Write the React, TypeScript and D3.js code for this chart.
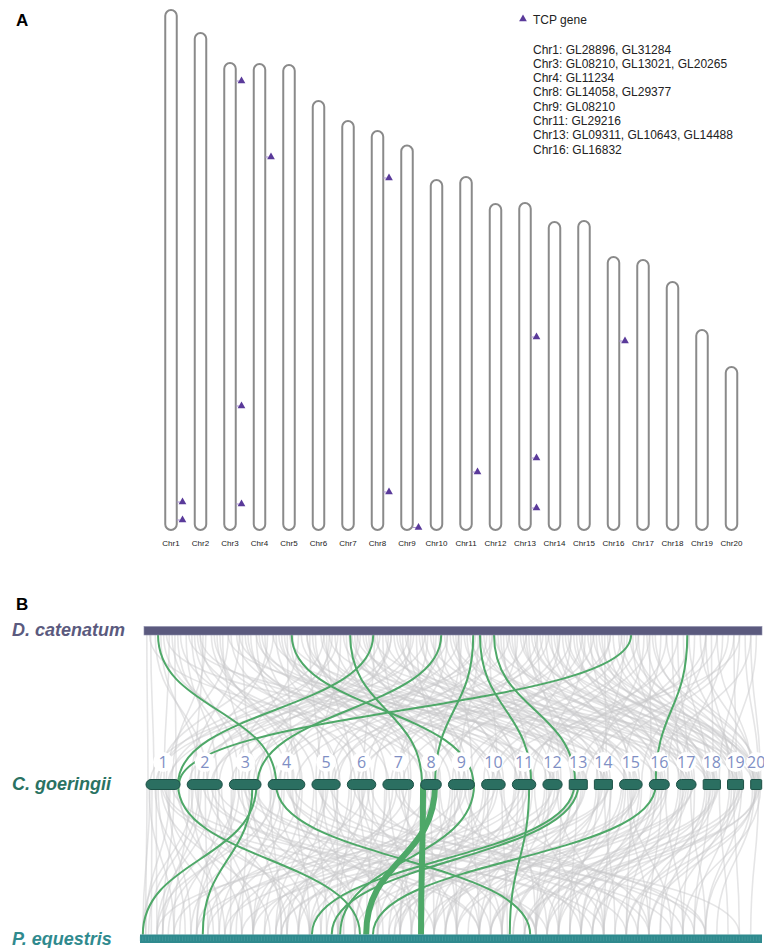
import React from "react";
import * as d3 from "d3";

// ---- panel A data ----
const chrNames = d3.range(1, 21).map((i) => `Chr${i}`);
// chromosome lengths (Mb)
const chrLengths = [104, 99.4, 93.4, 93.2, 93, 85.8, 81.8, 79.8, 76.9, 70, 70.6, 65.2, 65.4, 61.6, 61.8, 54.6, 54, 49.6, 40, 32.6];
// TCP genes: chromosome number and position (Mb from top)
const geneChr = [1, 1, 3, 3, 3, 4, 8, 8, 9, 11, 13, 13, 13, 16];
const genePos = [98.4, 102, 3.6, 68.6, 88.2, 18.6, 9.4, 72.2, 76.4, 59, 26.8, 51, 61, 16.8];
const legendLines = [
  "Chr1: GL28896, GL31284",
  "Chr3: GL08210, GL13021, GL20265",
  "Chr4: GL11234",
  "Chr8: GL14058, GL29377",
  "Chr9: GL08210",
  "Chr11: GL29216",
  "Chr13: GL09311, GL10643, GL14488",
  "Chr16: GL16832",
];

// ---- panel B data ----
const species = ["D. catenatum", "C. goeringii", "P. equestris"];
const dcLength = 1100;
const peLength = 1100;
const cgLabels = d3.range(1, 21).map(String);
const cgLengths = [170, 175, 158, 183, 141, 142, 153, 103, 130, 118, 117, 96, 90, 90, 113, 100, 98, 86, 80, 55];

// highlighted blocks D. catenatum -> C. goeringii: [dcMb, cgChr, cgMb, genes]
const greenUpper = [
  [25, 4, 40, 10], [263, 9, 125, 10], [367, 8, 7, 10], [408, 1, 160, 10], [529, 3, 140, 10],
  [586, 8, 72, 10], [598, 11, 94, 10], [623, 13, 30, 10], [867, 1, 165, 10], [967, 16, 32, 10],
];
// highlighted blocks C. goeringii -> P. equestris: [cgChr, cgMb, peMb, genes]
const greenLower = [
  [1, 160, 389, 10], [3, 115, 111, 10], [3, 135, 5, 10], [4, 40, 690, 10], [8, 72, 400, 40],
  [8, 12, 497, 40], [9, 128, 354, 10], [11, 84, 654, 10], [13, 25, 304, 10], [13, 45, 339, 10],
  [16, 32, 412, 10],
];
// background blocks D. catenatum -> C. goeringii: [dcMb, cgChr, cgMb]
const grayUpper = [
  [5, 1, 10], [12, 1, 40], [30, 2, 60], [45, 1, 90], [60, 3, 20], [75, 2, 150], [90, 4, 100], [110, 1, 130],
  [120, 5, 60], [140, 3, 80], [155, 6, 40], [170, 2, 20], [185, 7, 90], [200, 4, 160], [215, 5, 120], [230, 1, 60],
  [245, 8, 50], [260, 6, 120], [275, 3, 30], [290, 9, 60], [305, 7, 20], [320, 10, 40], [335, 2, 100], [350, 5, 20],
  [365, 11, 50], [380, 4, 60], [395, 12, 40], [410, 6, 80], [425, 7, 140], [440, 3, 120], [455, 13, 60], [470, 9, 100],
  [485, 8, 90], [500, 14, 40], [515, 10, 90], [530, 5, 100], [545, 15, 60], [560, 11, 20], [575, 12, 80], [590, 4, 20],
  [605, 16, 50], [620, 7, 60], [635, 13, 10], [650, 17, 40], [665, 9, 20], [680, 14, 80], [695, 18, 40], [710, 6, 10],
  [725, 15, 100], [740, 10, 10], [755, 19, 30], [770, 16, 80], [785, 12, 10], [800, 20, 30], [815, 17, 80], [830, 8, 20],
  [845, 18, 70], [860, 11, 100], [875, 19, 60], [890, 14, 10], [905, 20, 45], [920, 15, 20], [940, 17, 10], [960, 18, 20],
  [980, 16, 90], [1000, 19, 10], [1020, 20, 10], [1040, 13, 80], [1060, 18, 80], [1080, 20, 50],
  [50, 3, 140], [100, 5, 10], [180, 8, 10], [250, 9, 10], [330, 3, 150], [420, 1, 20], [480, 2, 130], [520, 6, 130],
  [560, 9, 120], [610, 5, 130], [700, 12, 90], [760, 11, 10], [820, 14, 60], [900, 16, 10], [1000, 15, 110], [130, 4, 170],
  [210, 10, 100], [290, 11, 110], [370, 13, 80], [450, 15, 90],
  [20, 2, 100], [35, 4, 20], [55, 1, 150], [65, 5, 90], [85, 3, 50], [95, 6, 100], [105, 2, 40], [125, 7, 30],
  [135, 4, 130], [150, 1, 100], [165, 8, 70], [175, 3, 100], [190, 5, 140], [205, 9, 90], [220, 2, 80], [235, 6, 60],
  [240, 10, 70], [255, 4, 120], [265, 7, 110], [280, 11, 30], [295, 5, 40], [300, 8, 30], [315, 12, 60], [325, 6, 20],
  [340, 9, 40], [345, 1, 120], [355, 13, 40], [360, 7, 130], [375, 10, 60], [385, 2, 160], [390, 14, 60], [400, 8, 100],
  [405, 3, 60], [415, 11, 70], [430, 15, 40], [435, 4, 80], [445, 12, 20], [460, 9, 80], [465, 16, 60], [475, 5, 80],
  [490, 13, 70], [495, 10, 110], [505, 6, 90], [510, 17, 60], [525, 11, 40], [535, 14, 70], [540, 7, 70], [550, 18, 60],
  [555, 12, 50], [565, 8, 60], [570, 15, 80], [580, 19, 50], [585, 13, 20], [595, 9, 50], [600, 16, 20], [615, 10, 80],
  [625, 20, 20], [630, 14, 20], [640, 11, 90], [645, 17, 20], [655, 15, 30], [660, 12, 70], [670, 18, 10], [675, 16, 70],
  [685, 13, 50], [690, 19, 20], [705, 17, 70], [715, 14, 50], [720, 20, 40], [730, 18, 50], [735, 15, 70], [745, 16, 40],
  [750, 19, 70], [765, 17, 30], [775, 20, 20], [780, 18, 30], [790, 19, 40], [795, 15, 50], [805, 16, 60], [810, 20, 5],
  [825, 17, 50], [835, 18, 10], [850, 19, 50], [855, 14, 30], [865, 20, 25], [870, 16, 95], [880, 17, 90], [895, 18, 60],
  [910, 19, 75], [930, 20, 35], [950, 17, 60], [970, 19, 25], [990, 20, 15], [1010, 18, 50], [1030, 17, 20], [1050, 19, 45],
  [1070, 20, 40], [1090, 19, 5],
  [10, 8, 40], [40, 12, 50], [80, 15, 30], [150, 18, 20], [200, 13, 90], [260, 17, 50], [320, 1, 70], [380, 19, 40],
  [440, 2, 50], [500, 1, 110], [560, 3, 90], [620, 2, 120], [680, 4, 140], [720, 5, 30], [760, 6, 70], [800, 7, 100],
  [850, 9, 70], [900, 10, 50], [950, 11, 60], [1000, 12, 30], [1050, 14, 40], [1080, 16, 20], [100, 11, 80], [170, 14, 50],
  [230, 16, 40], [330, 18, 30], [410, 20, 10], [470, 1, 50], [540, 2, 10], [600, 3, 10], [650, 4, 50], [700, 5, 110],
  [740, 7, 40], [780, 8, 80], [830, 6, 50], [880, 9, 110], [930, 12, 50], [970, 13, 40], [1020, 11, 30], [1060, 10, 70],
];
// background blocks C. goeringii -> P. equestris: [cgChr, cgMb, peMb]
const grayLower = [
  [1, 5, 10], [1, 30, 20], [1, 60, 80], [1, 100, 150], [1, 140, 40], [2, 10, 60], [2, 50, 200], [2, 90, 120],
  [2, 130, 30], [2, 170, 260], [3, 20, 100], [3, 60, 300], [3, 100, 180], [3, 150, 50], [4, 10, 250], [4, 70, 140],
  [4, 120, 380], [4, 170, 220], [5, 20, 330], [5, 60, 200], [5, 100, 430], [5, 130, 280], [6, 20, 350], [6, 70, 480],
  [6, 110, 260], [7, 10, 420], [7, 50, 300], [7, 100, 540], [7, 140, 380], [8, 30, 460], [8, 60, 330], [8, 90, 560],
  [9, 20, 500], [9, 60, 420], [9, 110, 600], [10, 20, 560], [10, 60, 450], [10, 100, 650], [11, 10, 520], [11, 50, 700],
  [11, 100, 600], [12, 20, 640], [12, 60, 540], [12, 90, 740], [13, 10, 700], [13, 60, 600], [14, 20, 760], [14, 60, 660],
  [14, 80, 820], [15, 20, 720], [15, 60, 860], [15, 100, 780], [16, 20, 800], [16, 60, 900], [16, 90, 700], [17, 20, 880],
  [17, 60, 780], [17, 90, 960], [18, 20, 920], [18, 60, 840], [19, 20, 980], [19, 60, 900], [20, 20, 1020], [20, 50, 960],
  [1, 80, 500], [2, 120, 600], [3, 40, 520], [4, 100, 700], [5, 40, 620], [6, 90, 100], [7, 120, 160], [8, 80, 220],
  [9, 90, 240], [10, 40, 300], [11, 80, 350], [12, 40, 420], [13, 80, 460], [14, 40, 520], [15, 80, 560], [16, 40, 620],
  [17, 40, 680], [18, 40, 740], [19, 40, 800], [20, 30, 860], [3, 130, 700], [6, 50, 640], [9, 40, 740], [12, 70, 820],
  [15, 40, 900], [1, 120, 10], [2, 30, 5], [4, 40, 30],
  [1, 15, 60], [1, 45, 130], [1, 75, 230], [1, 110, 90], [1, 150, 300], [1, 165, 180], [2, 20, 140], [2, 40, 280],
  [2, 70, 40], [2, 100, 350], [2, 140, 200], [2, 160, 100], [3, 10, 160], [3, 30, 40], [3, 80, 360], [3, 110, 250],
  [3, 140, 400], [4, 20, 90], [4, 50, 320], [4, 80, 200], [4, 110, 460], [4, 140, 300], [4, 160, 120], [5, 10, 240],
  [5, 50, 380], [5, 80, 150], [5, 110, 500], [5, 125, 350], [6, 10, 280], [6, 40, 200], [6, 60, 420], [6, 80, 320],
  [6, 100, 560], [6, 130, 400], [7, 20, 360], [7, 30, 480], [7, 70, 240], [7, 80, 600], [7, 130, 460], [8, 10, 380],
  [8, 50, 520], [8, 70, 280], [8, 95, 640], [9, 10, 440], [9, 30, 560], [9, 70, 350], [9, 100, 680], [9, 120, 520],
  [10, 10, 480], [10, 30, 620], [10, 80, 400], [10, 110, 720], [11, 20, 460], [11, 30, 640], [11, 70, 540], [11, 110, 780],
  [12, 10, 580], [12, 30, 700], [12, 80, 480], [13, 20, 640], [13, 40, 760], [13, 70, 540], [14, 10, 700], [14, 30, 600],
  [14, 50, 840], [14, 85, 740], [15, 10, 660], [15, 30, 780], [15, 50, 940], [15, 70, 700], [15, 110, 820], [16, 10, 740],
  [16, 30, 860], [16, 50, 760], [16, 80, 960], [17, 10, 820], [17, 30, 920], [17, 50, 720], [17, 70, 1000], [18, 10, 880],
  [18, 30, 980], [18, 50, 800], [18, 80, 1040], [19, 10, 940], [19, 30, 1060], [19, 50, 860], [19, 70, 1000], [20, 10, 1000],
  [20, 40, 1080], [20, 25, 900], [1, 20, 5], [1, 50, 30], [2, 60, 15], [3, 50, 70], [4, 30, 170], [5, 70, 260],
  [1, 90, 600], [2, 80, 700], [3, 70, 800], [4, 90, 860], [5, 30, 900], [6, 30, 960], [7, 60, 1000], [8, 40, 60],
  [9, 50, 120], [10, 70, 30], [11, 60, 200], [12, 50, 150], [13, 50, 250], [14, 70, 300], [15, 90, 380], [16, 70, 450],
  [17, 80, 500], [18, 70, 560], [19, 60, 620], [20, 45, 680], [1, 130, 720], [2, 150, 820], [3, 90, 940], [4, 130, 1000],
  [5, 90, 1060], [6, 120, 780], [7, 90, 880], [8, 20, 980], [9, 80, 820], [10, 90, 900], [11, 40, 100], [12, 85, 250],
  [13, 30, 340], [14, 70, 180], [15, 100, 440], [16, 85, 520], [17, 80, 420], [18, 75, 620], [19, 75, 680], [20, 35, 720],
];

const FONT = "'Liberation Sans', Arial, sans-serif";
const GREEN = "#4ea868";

const link = (x0: number, y0: number, x1: number, y1: number) => {
  const ym = (y0 + y1) / 2;
  return `M${x0},${y0}C${x0},${ym} ${x1},${ym} ${x1},${y1}`;
};

function PanelA() {
  const bottom = 530;
  const x = d3.scalePoint<string>().domain(chrNames).range([171, 731.5]);
  const y = d3.scaleLinear().domain([0, d3.max(chrLengths) as number]).range([0, 520]);
  const w = 11.5;
  const tri = d3.symbol().type(d3.symbolTriangle).size(26)();
  return (
    <g>
      <text x={16} y={26} fontFamily={FONT} fontWeight="bold" fontSize={17}>A</text>
      {chrNames.map((c, i) => {
        const top = bottom - y(chrLengths[i]);
        const cx = x(c) as number;
        return (
          <g key={c}>
            <rect x={cx - w / 2} y={top} width={w} height={bottom - top} rx={w / 2}
              fill="#fff" stroke="#8a8a8a" strokeWidth={2} />
            <text x={cx} y={545.5} textAnchor="middle" fontFamily={FONT} fontSize={8} fill="#222">{c}</text>
          </g>
        );
      })}
      {geneChr.map((c, i) => {
        const top = bottom - y(chrLengths[c - 1]);
        const cx = x(chrNames[c - 1]) as number;
        const gy = top + y(genePos[i]);
        return (
          <g key={i}>
            <line x1={cx + w / 2} x2={cx + 9} y1={gy} y2={gy} stroke="#a893cf" strokeWidth={1} />
            <path d={tri as string} transform={`translate(${cx + 11.5},${gy})`} fill="#5a3a9a" />
          </g>
        );
      })}
      <path d={tri as string} transform="translate(523,19)" fill="#5a3a9a" />
      <text x={533} y={23.5} fontFamily={FONT} fontSize={12} fill="#222">TCP gene</text>
      {legendLines.map((t, i) => (
        <text key={t} x={533} y={53.5 + i * 14.3} fontFamily={FONT} fontSize={12} fill="#222">{t}</text>
      ))}
    </g>
  );
}

function PanelB() {
  const dcY = 626.5, dcH = 8.5;
  const cgY = 784.5, cgH = 10;
  const peY = 934.5, peH = 8.5;
  const dcX = d3.scaleLinear().domain([0, dcLength]).range([144, 762]);
  const peX = d3.scaleLinear().domain([0, peLength]).range([140, 762]);
  const gap = 7.1;
  const cgLeft = 146, cgRight = 761.7;
  const total = d3.sum(cgLengths);
  const k = d3.scaleLinear().domain([0, total]).range([0, cgRight - cgLeft - gap * (cgLengths.length - 1)]);
  const cum = d3.cumsum(cgLengths);
  const cgStart = cgLengths.map((_, i) => cgLeft + k(i === 0 ? 0 : cum[i - 1]) + i * gap);
  const cgX = (chr: number, pos: number) => cgStart[chr - 1] + k(pos);
  const widthScale = d3.scaleLinear().domain([10, 40]).range([2, 6]);
  const peTicks = d3.range(0, peLength, 5);

  return (
    <g>
      <text x={16} y={610} fontFamily={FONT} fontWeight="bold" fontSize={17}>B</text>
      {/* background synteny */}
      <g fill="none" stroke="#c8c8cb" strokeOpacity={0.48} strokeWidth={1.6}>
        {grayUpper.map((d, i) => (
          <path key={`gu${i}`} d={link(dcX(d[0]), dcY + dcH, cgX(d[1], d[2]), cgY)} />
        ))}
        {grayLower.map((d, i) => (
          <path key={`gl${i}`} d={link(cgX(d[0], d[1]), cgY, peX(d[2]), peY)} />
        ))}
      </g>
      {/* highlighted synteny */}
      <g fill="none" stroke={GREEN}>
        {greenUpper.map((d, i) => (
          <path key={`eu${i}`} strokeWidth={widthScale(d[3])} d={link(dcX(d[0]), dcY + dcH, cgX(d[1], d[2]), cgY)} />
        ))}
        {greenLower.map((d, i) => (
          <path key={`el${i}`} strokeWidth={widthScale(d[3])} d={link(cgX(d[0], d[1]), cgY, peX(d[2]), peY)} />
        ))}
      </g>
      {/* tracks */}
      <rect x={dcX(0)} y={dcY} width={dcX(dcLength) - dcX(0)} height={dcH} fill="#5b5a7e" stroke="#8d8cab" strokeWidth={0.6} />
      <rect x={peX(0)} y={peY} width={peX(peLength) - peX(0)} height={peH} fill="#2f8a8e" />
      <g stroke="#6fb4b6" strokeOpacity={0.45} strokeWidth={0.6}>
        {peTicks.map((t) => (
          <line key={t} x1={peX(t)} x2={peX(t)} y1={peY + 2} y2={peY + peH - 2} />
        ))}
      </g>
      {cgLengths.map((len, i) => {
        const x0 = cgStart[i];
        const wd = k(len);
        const r = wd >= 19 ? 5 : 1;
        return (
          <rect key={i} x={x0} y={cgY - cgH / 2} width={wd} height={cgH} rx={r}
            fill="#2b6f61" stroke="#1d5146" strokeWidth={1} />
        );
      })}
      {cgLabels.map((l, i) => {
        const cx = cgStart[i] + k(cgLengths[i]) / 2;
        return (
          <g key={l}>
            <circle cx={cx} cy={762} r={10} fill="#fff" />
            <text x={cx} y={768} textAnchor="middle" fontFamily="'Open Sans', sans-serif" fontSize={16} fill="#7f8fc4">{l}</text>
          </g>
        );
      })}
      {/* species labels */}
      <g fontFamily={FONT} fontWeight="bold" fontStyle="italic" fontSize={18}>
        <text x={12} y={635.5} fill="#5b5a7e">{species[0]}</text>
        <text x={12} y={790} fill="#2a7262">{species[1]}</text>
        <text x={12} y={944.5} fill="#2f8a8e">{species[2]}</text>
      </g>
    </g>
  );
}

export default function App() {
  return (
    <svg width={764} height={948} style={{ position: "absolute", left: 0, top: 0, background: "#fff" }}>
      <PanelA />
      <PanelB />
    </svg>
  );
}
